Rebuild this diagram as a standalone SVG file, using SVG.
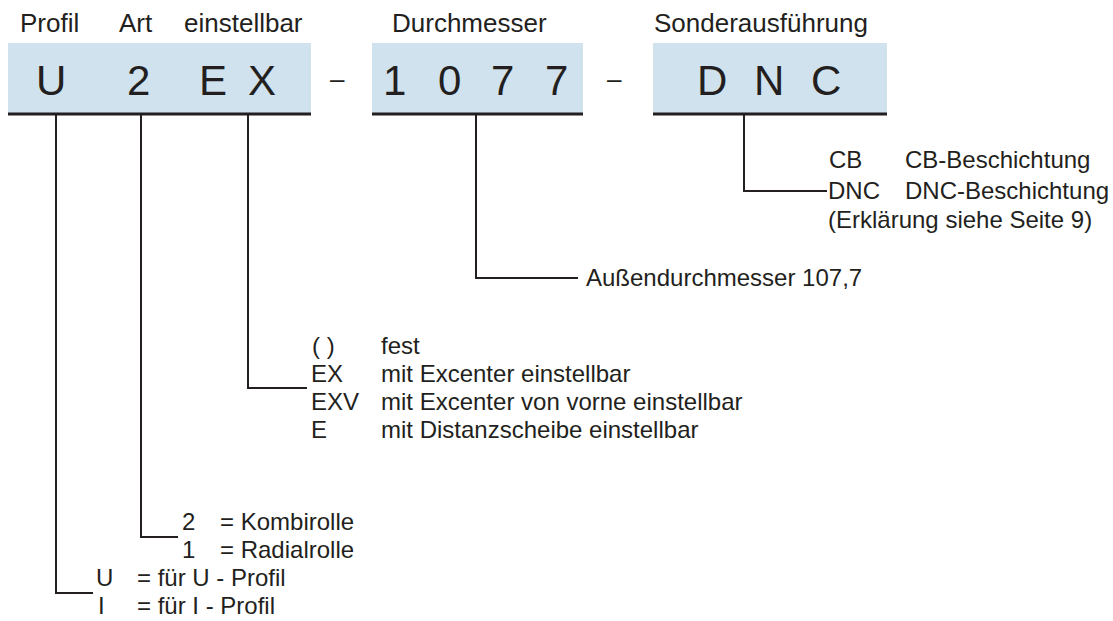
<svg xmlns="http://www.w3.org/2000/svg" width="1113" height="621" viewBox="0 0 1113 621">
<style>
text{font-family:"Liberation Sans",Arial,sans-serif;fill:#231f20}
.h{font-size:26px}
.big{font-size:42px}
.t{font-size:24px}
.dash{font-size:26px}
.box{fill:#cfe2ee}
.ul{stroke:#231f20;stroke-width:3;fill:none}
.c{stroke:#231f20;stroke-width:2;fill:none}
</style>
<rect width="1113" height="621" fill="#fff"/>
<g id="header">
<text class="h" x="20" y="32">Profil</text>
<text class="h" x="119" y="32">Art</text>
<text class="h" x="184" y="32">einstellbar</text>
<text class="h" x="392" y="32">Durchmesser</text>
<text class="h" x="654" y="32">Sonderausführung</text>
</g>
<g id="box1">
<rect class="box" x="8" y="43" width="303" height="70"/>
<line class="ul" x1="8" y1="114" x2="311" y2="114"/>
<text class="big" x="36" y="95">U</text>
<text class="big" x="127" y="95">2</text>
<text class="big" x="199" y="95">E</text>
<text class="big" x="248" y="95">X</text>
</g>
<text class="dash" x="330" y="88">–</text>
<g id="box2">
<rect class="box" x="372" y="43" width="211" height="70"/>
<line class="ul" x1="372" y1="114" x2="583" y2="114"/>
<text class="big" x="383" y="95">1</text>
<text class="big" x="438" y="95">0</text>
<text class="big" x="491" y="95">7</text>
<text class="big" x="545" y="95">7</text>
</g>
<text class="dash" x="607" y="88">–</text>
<g id="box3">
<rect class="box" x="653" y="43" width="234" height="70"/>
<line class="ul" x1="653" y1="114" x2="887" y2="114"/>
<text class="big" x="697" y="95">D</text>
<text class="big" x="754" y="95">N</text>
<text class="big" x="811" y="95">C</text>
</g>
<g id="connectors">
<polyline class="c" points="56,115 56,593 93,593"/>
<polyline class="c" points="141,115 141,537 178,537"/>
<polyline class="c" points="248,115 248,388 307,388"/>
<polyline class="c" points="476,115 476,278 578,278"/>
<polyline class="c" points="744,115 744,191 827,191"/>
</g>
<g id="sonder">
<text class="t" x="829" y="168">CB</text>
<text class="t" x="905" y="168">CB-Beschichtung</text>
<text class="t" x="828" y="199">DNC</text>
<text class="t" x="905" y="199">DNC-Beschichtung</text>
<text class="t" x="828" y="228">(Erklärung siehe Seite 9)</text>
</g>
<g id="durchmesser">
<text class="t" x="586" y="286">Außendurchmesser 107,7</text>
</g>
<g id="einstellbar">
<text class="t" x="312" y="354">( )</text>
<text class="t" x="381" y="354">fest</text>
<text class="t" x="311" y="382">EX</text>
<text class="t" x="381" y="382">mit Excenter einstellbar</text>
<text class="t" x="311" y="410">EXV</text>
<text class="t" x="381" y="410">mit Excenter von vorne einstellbar</text>
<text class="t" x="311" y="438">E</text>
<text class="t" x="381" y="438">mit Distanzscheibe einstellbar</text>
</g>
<g id="art">
<text class="t" x="182" y="530">2</text>
<text class="t" x="220" y="530">= Kombirolle</text>
<text class="t" x="182" y="558">1</text>
<text class="t" x="220" y="558">= Radialrolle</text>
</g>
<g id="profil">
<text class="t" x="96" y="586">U</text>
<text class="t" x="137" y="586">= für U - Profil</text>
<text class="t" x="98" y="614">I</text>
<text class="t" x="137" y="614">= für I - Profil</text>
</g>
</svg>
